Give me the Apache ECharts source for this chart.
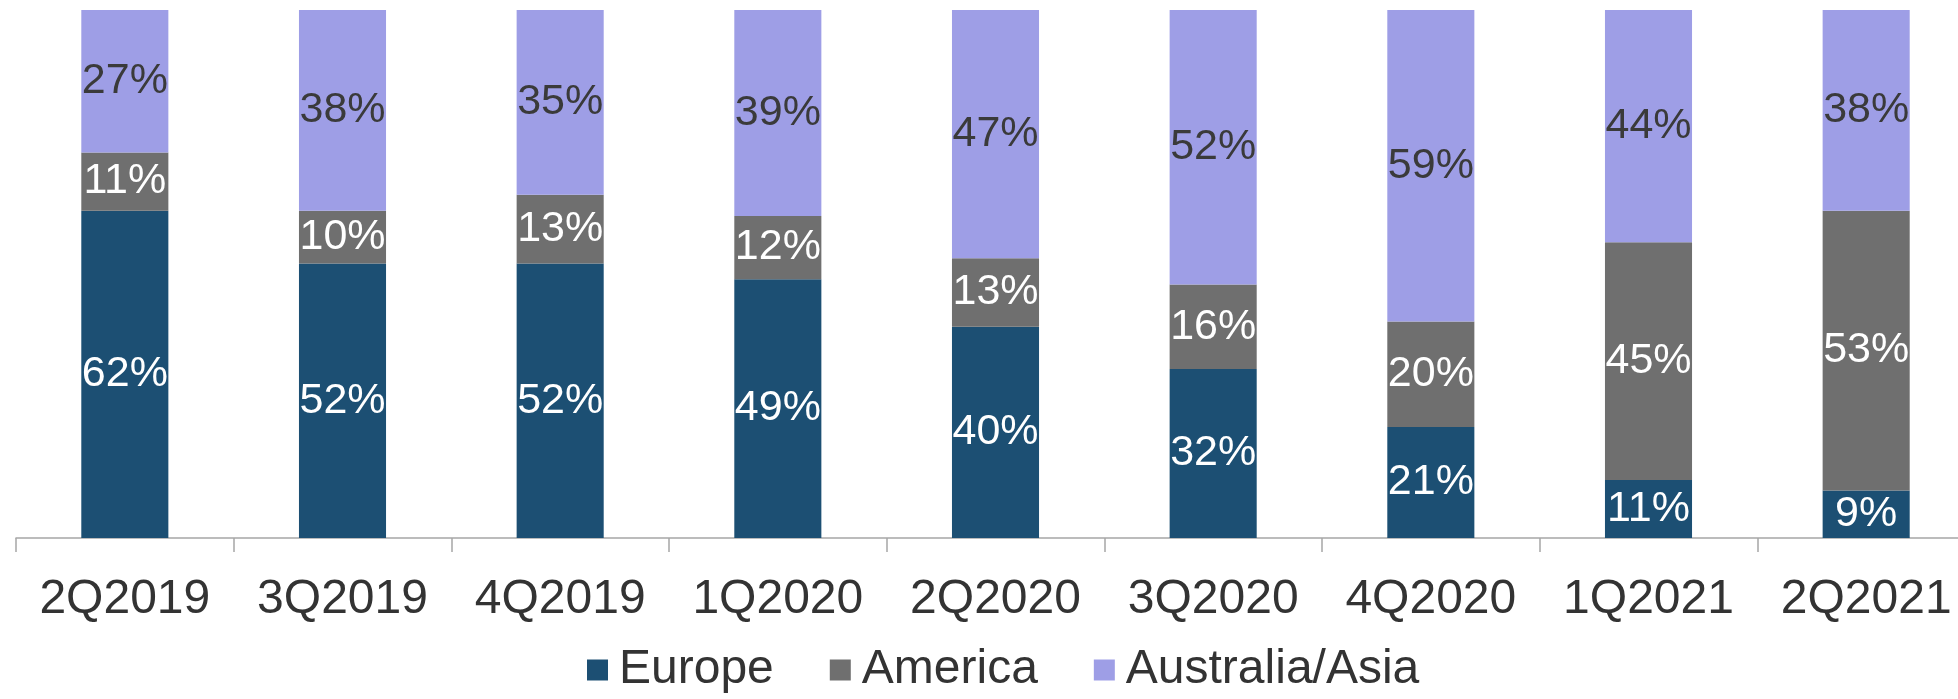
<!DOCTYPE html>
<html>
<head>
<meta charset="utf-8">
<script src="https://cdn.jsdelivr.net/npm/echarts@6/dist/echarts.min.js"></script>
<style>
html,body{margin:0;padding:0;background:#fff;}
#chart{width:1958px;height:699px;}
</style>
</head>
<body>
<div id="chart"></div>
<script>
const categories = ['2Q2019','3Q2019','4Q2019','1Q2020','2Q2020','3Q2020','4Q2020','1Q2021','2Q2021'];
const europe = [62, 52, 52, 49, 40, 32, 21, 11, 9];
const america = [11, 10, 13, 12, 13, 16, 20, 45, 53];
const australiaAsia = [27, 38, 35, 39, 47, 52, 59, 44, 38];

const FONT = '"Liberation Sans", Arial, sans-serif';
function mk(name, data, color, labelColor) {
  return {
    name: name,
    type: 'bar',
    stack: 'total',
    data: data,
    barWidth: '40%',
    itemStyle: { color: color },
    label: {
      show: true,
      position: 'inside',
      formatter: '{c}%',
      color: labelColor,
      fontSize: 43,
      fontFamily: FONT
    }
  };
}
const chart = echarts.init(document.getElementById('chart'), null, { renderer: 'canvas' });
chart.setOption({
  animation: false,
  backgroundColor: '#ffffff',
  grid: { left: 16, right: -17, top: 10, bottom: 161, containLabel: false, outerBoundsMode: 'none' },
  legend: {
    bottom: 0,
    left: 582,
    itemWidth: 21,
    itemHeight: 21,
    itemGap: 56,
    icon: 'rect',
    textStyle: { fontSize: 48, color: '#333333', fontFamily: FONT, padding: [0, 0, 0, 6] },
    data: ['Europe', 'America', 'Australia/Asia']
  },
  xAxis: {
    type: 'category',
    data: categories,
    axisLine: { lineStyle: { color: '#a6a6a6', width: 1.5 } },
    axisTick: { show: true, length: 14, lineStyle: { color: '#a6a6a6', width: 1.5 } },
    axisLabel: { fontSize: 48, color: '#333333', fontFamily: FONT, margin: 38, interval: 0 }
  },
  yAxis: {
    type: 'value',
    min: 0,
    max: 100,
    show: false,
    splitLine: { show: false }
  },
  series: [
    mk('Europe', europe, '#1c4f73', '#ffffff'),
    mk('America', america, '#6f6f6f', '#ffffff'),
    mk('Australia/Asia', australiaAsia, '#9e9ee6', '#3a3a3a')
  ]
});
</script>
</body>
</html>
